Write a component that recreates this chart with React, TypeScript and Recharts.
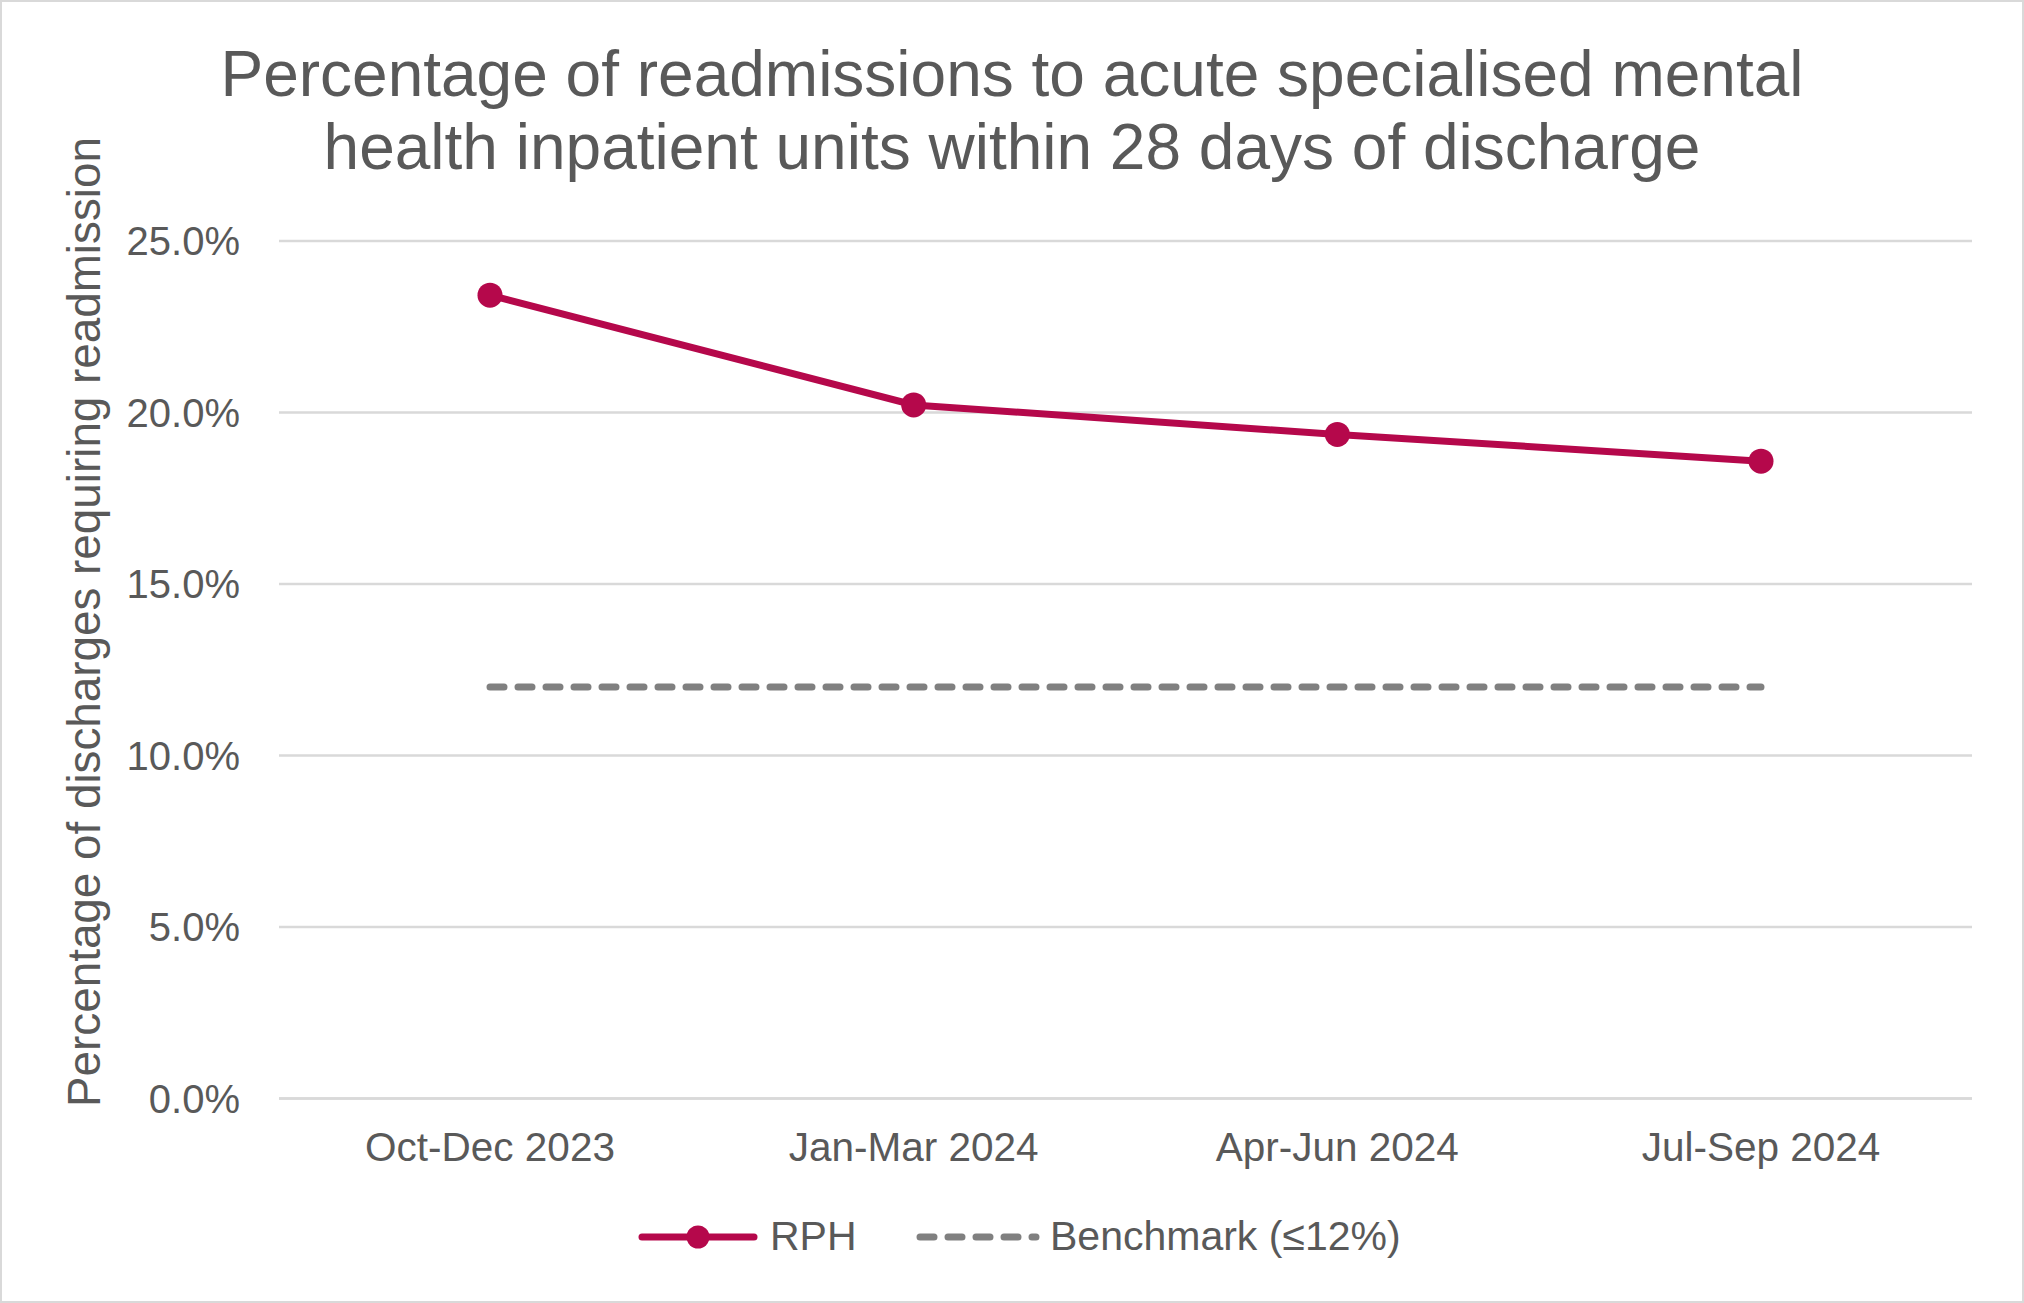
import React from "react";
import { LineChart, Line, XAxis, YAxis, CartesianGrid } from "recharts";

const QUARTERS = ["Oct-Dec 2023", "Jan-Mar 2024", "Apr-Jun 2024", "Jul-Sep 2024"];
const RPH = [23.42, 20.22, 19.36, 18.58];
const BENCHMARK = [12, 12, 12, 12];
const Y_TICKS = [0, 5, 10, 15, 20, 25];

const FONT = '"Liberation Sans", Arial, sans-serif';
const INK = "#595959";
const CRIMSON = "#B5084B";
const GREY = "#808080";

const data = QUARTERS.map((q, i) => ({ quarter: q, rph: RPH[i], benchmark: BENCHMARK[i] }));

function LegendRow() {
  return (
    <div style={{ position: "absolute", left: 0, top: 1210, width: 2020, height: 50, fontSize: 41, color: INK }}>
      <svg width={120} height={30} style={{ position: "absolute", left: 636, top: 10 }}>
        <line x1={4} y1={15} x2={116} y2={15} stroke={CRIMSON} strokeWidth={7} strokeLinecap="round" />
        <circle cx={60} cy={15} r={11.5} fill={CRIMSON} />
      </svg>
      <span style={{ position: "absolute", left: 768, top: 1, lineHeight: "46px" }}>RPH</span>
      <svg width={124} height={30} style={{ position: "absolute", left: 914, top: 10 }}>
        <line x1={4} y1={15} x2={120} y2={15} stroke={GREY} strokeWidth={7} strokeLinecap="round" strokeDasharray="14 14" />
      </svg>
      <span style={{ position: "absolute", left: 1048, top: 1, lineHeight: "46px" }}>Benchmark (≤12%)</span>
    </div>
  );
}

export default function App() {
  return (
    <div
      style={{
        position: "absolute",
        left: 0,
        top: 0,
        width: 2024,
        height: 1303,
        background: "#fff",
        border: "2px solid #d9d9d9",
        boxSizing: "border-box",
        fontFamily: FONT,
      }}
    >
      <div
        style={{
          position: "absolute",
          left: 0,
          top: 36,
          width: 2020,
          textAlign: "center",
          fontSize: 64,
          lineHeight: "73px",
          color: INK,
        }}
      >
        Percentage of readmissions to acute specialised mental
        <br />
        health inpatient units within 28 days of discharge
      </div>
      <div
        style={{
          position: "absolute",
          left: 83,
          top: 620,
          transform: "translate(-50%, -50%) rotate(-90deg)",
          whiteSpace: "nowrap",
          fontSize: 45.8,
          color: INK,
        }}
      >
        Percentage of discharges requiring readmission
      </div>
      <LineChart
        width={2020}
        height={1299}
        data={data}
        margin={{ top: 239, right: 50, bottom: 142.5, left: 0 }}
        style={{ position: "absolute", left: 0, top: 0 }}
      >
        <CartesianGrid vertical={false} stroke="#d9d9d9" strokeWidth={2.5} />
        <XAxis
          dataKey="quarter"
          height={60}
          padding={{ left: 211, right: 211 }}
          axisLine={{ stroke: "#d9d9d9", strokeWidth: 2.5 }}
          tickLine={false}
          tickSize={0}
          tickMargin={34}
          tick={{ fontSize: 40.5, fill: INK, fontFamily: FONT }}
          interval={0}
        />
        <YAxis
          width={277}
          domain={[0, 25]}
          ticks={Y_TICKS}
          axisLine={false}
          tickLine={false}
          tickSize={0}
          tickMargin={39}
          tick={{ fontSize: 40, fill: INK, fontFamily: FONT }}
          tickFormatter={(v: number) => `${v.toFixed(1)}%`}
        />
        <Line
          dataKey="benchmark"
          stroke={GREY}
          strokeWidth={7}
          strokeLinecap="round"
          strokeDasharray="14 14"
          dot={false}
          activeDot={false}
          isAnimationActive={false}
        />
        <Line
          dataKey="rph"
          stroke={CRIMSON}
          strokeWidth={7}
          dot={{ r: 12.5, fill: CRIMSON, stroke: "none" }}
          activeDot={false}
          isAnimationActive={false}
        />
      </LineChart>
      <LegendRow />
    </div>
  );
}
